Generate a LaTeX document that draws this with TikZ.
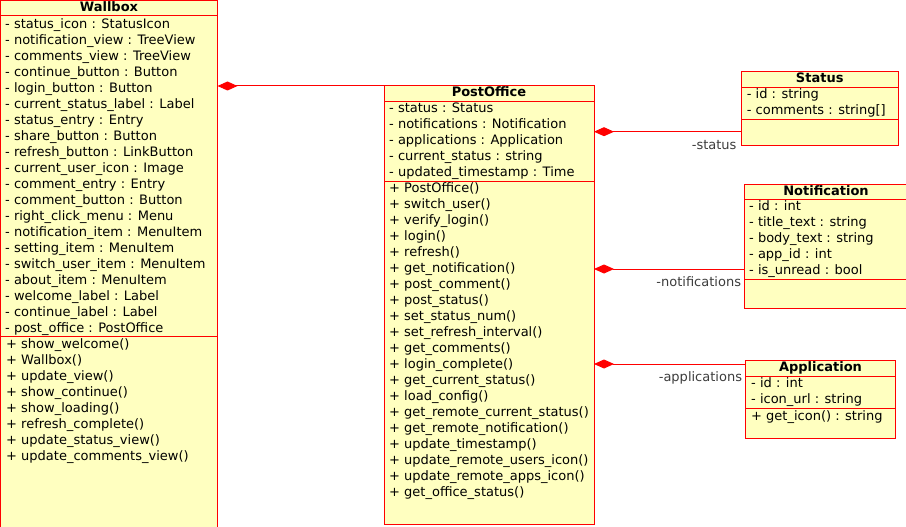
\documentclass[tikz,border=0pt]{standalone}
\usepackage{fontspec}
\setmainfont{DejaVu Sans}
\usetikzlibrary{arrows.meta}
\definecolor{umlred}{RGB}{255,0,0}
\definecolor{umlfill}{RGB}{255,255,192}
\definecolor{rolegray}{RGB}{60,60,60}

\begin{document}
\fontsize{13pt}{16pt}\selectfont
\begin{tikzpicture}[x=1pt,y=-1pt,
    classbox/.style={draw=umlred, fill=umlfill, line width=1pt, anchor=north west, inner sep=0pt, outer sep=0pt},
    classname/.style={anchor=base, inner sep=0pt, font=\bfseries},
    member/.style={anchor=base west, inner sep=0pt},
    divider/.style={draw=umlred, line width=1pt},
    compose/.style={draw=umlred, line width=1pt, {Diamond[length=20pt,width=9pt]}-},
    role/.style={anchor=base east, inner sep=0pt, text=rolegray}]
    \useasboundingbox (0,0) rectangle (906,527);
    \clip (0,0) rectangle (906,527);

    % Wallbox
    \node[classbox, minimum width=217pt, minimum height=560pt] (wallbox) at (0.5,0.5) {};
    \node[classname] (wallbox-name) at (109,11.7) {Wallbox};
    \draw[divider] (wallbox.west |- 0,16) -- (wallbox.east |- 0,16);
    \draw[divider] (wallbox.west |- 0,336) -- (wallbox.east |- 0,336);
    \foreach \m [count=\i from 0] in {- status\_icon : StatusIcon, - notification\_view : TreeView,
        - comments\_view : TreeView, - continue\_button : Button, - login\_button : Button,
        - current\_status\_label : Label, - status\_entry : Entry, - share\_button : Button,
        - refresh\_button : LinkButton, - current\_user\_icon : Image, - comment\_entry : Entry,
        - comment\_button : Button, - right\_click\_menu : Menu, - notification\_item : MenuItem,
        - setting\_item : MenuItem, - switch\_user\_item : MenuItem, - about\_item : MenuItem,
        - welcome\_label : Label, - continue\_label : Label, - post\_office : PostOffice}
        \node[member] (wallbox-a\i) at (5,{28.3+16*\i}) {\m};
    \foreach \m [count=\i from 0] in {+ show\_welcome(), + Wallbox(), + update\_view(),
        + show\_continue(), + show\_loading(), + refresh\_complete(), + update\_status\_view(),
        + update\_comments\_view()}
        \node[member] (wallbox-m\i) at (6,{348.5+16*\i}) {\m};

    % PostOffice
    \node[classbox, minimum width=210pt, minimum height=438pt] (postoffice) at (384,86) {};
    \node[classname] (postoffice-name) at (489,97) {PostOffice};
    \draw[divider] (postoffice.west |- 0,102) -- (postoffice.east |- 0,102);
    \draw[divider] (postoffice.west |- 0,181) -- (postoffice.east |- 0,181);
    \foreach \m [count=\i from 0] in {- status : Status, - notifications : Notification,
        - applications : Application, - current\_status : string, - updated\_timestamp : Time}
        \node[member] (postoffice-a\i) at (389,{112.8+16*\i}) {\m};
    \foreach \m [count=\i from 0] in {+ PostOffice(), + switch\_user(), + verify\_login(),
        + login(), + refresh(), + get\_notification(), + post\_comment(), + post\_status(),
        + set\_status\_num(), + set\_refresh\_interval(), + get\_comments(), + login\_complete(),
        + get\_current\_status(), + load\_config(), + get\_remote\_current\_status(),
        + get\_remote\_notification(), + update\_timestamp(), + update\_remote\_users\_icon(),
        + update\_remote\_apps\_icon(), + get\_office\_status()}
        \node[member] (postoffice-m\i) at (389,{192.8+16*\i}) {\m};

    % Status
    \node[classbox, minimum width=156.5pt, minimum height=73.5pt] (status) at (741.5,71.5) {};
    \node[classname] (status-name) at (819.75,83) {Status};
    \draw[divider] (status.west |- 0,87.7) -- (status.east |- 0,87.7);
    \draw[divider] (status.west |- 0,119.3) -- (status.east |- 0,119.3);
    \foreach \m [count=\i from 0] in {- id : string, - comments : string[]}
        \node[member] (status-a\i) at (746.7,{98.8+16*\i}) {\m};

    % Notification
    \node[classbox, minimum width=164pt, minimum height=124pt] (notification) at (744,184) {};
    \node[classname] (notification-name) at (826,195.2) {Notification};
    \draw[divider] (notification.west |- 0,199) -- (notification.east |- 0,199);
    \draw[divider] (notification.west |- 0,279) -- (notification.east |- 0,279);
    \foreach \m [count=\i from 0] in {- id : int, - title\_text : string, - body\_text : string,
        - app\_id : int, - is\_unread : bool}
        \node[member] (notification-a\i) at (749,{210.5+16*\i}) {\m};

    % Application
    \node[classbox, minimum width=150pt, minimum height=77.5pt] (application) at (745.5,360.7) {};
    \node[classname] (application-name) at (820.5,371.8) {Application};
    \draw[divider] (application.west |- 0,376.7) -- (application.east |- 0,376.7);
    \draw[divider] (application.west |- 0,408) -- (application.east |- 0,408);
    \foreach \m [count=\i from 0] in {- id : int, - icon\_url : string}
        \node[member] (application-a\i) at (751,{387.8+16*\i}) {\m};
    \node[member] (application-m0) at (751,420.5) {+ get\_icon() : string};

    % composition links
    \draw[compose] (wallbox.east |- postoffice.north west) -- (postoffice.north west);
    \draw[compose] (postoffice.east |- 0,131.7) -- (status.west |- 0,131.7)
        node[role, pos=1, xshift=-4.5pt, yshift=-18pt] (status-role) {-status};
    \draw[compose] (postoffice.east |- 0,269) -- (notification.west |- 0,269)
        node[role, pos=1, xshift=-2.5pt, yshift=-17.5pt] (notification-role) {-notifications};
    \draw[compose] (postoffice.east |- 0,364) -- (application.west |- 0,364)
        node[role, pos=1, xshift=-3pt, yshift=-17.5pt] (application-role) {-applications};
\end{tikzpicture}
\end{document}
